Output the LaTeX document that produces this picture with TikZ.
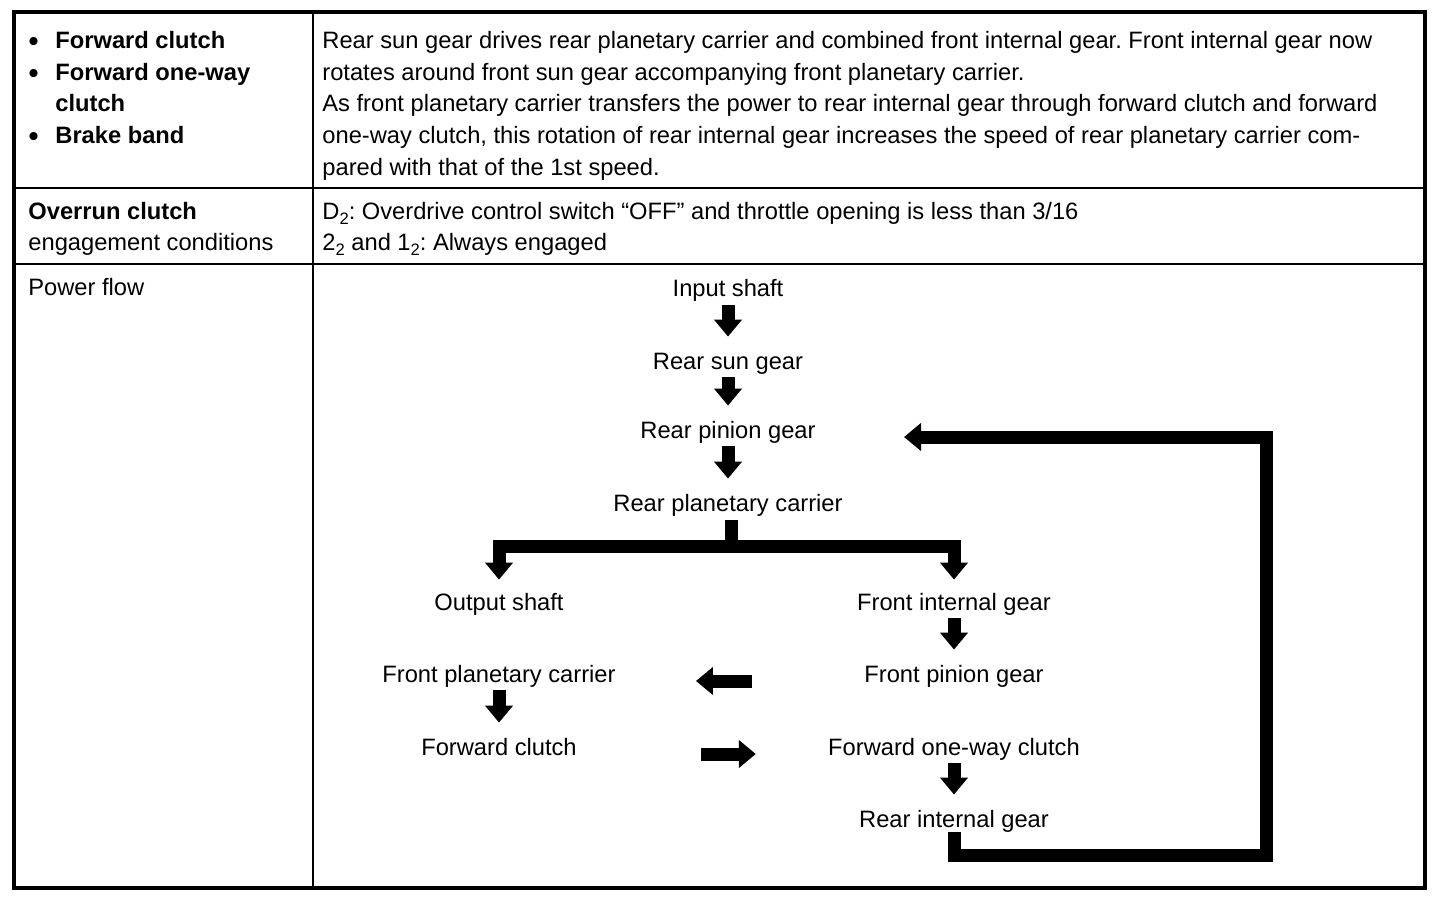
\documentclass[tikz,border=0pt]{standalone}
\usepackage{fontspec}
\setmainfont{Liberation Sans}
\usetikzlibrary{arrows.meta}
\frenchspacing
\newcommand\pfs{\fontsize{11.85pt}{15.75pt}\selectfont}
\newcommand\mysub[1]{\raisebox{-2.6pt}{\fontsize{8.3pt}{8.3pt}\selectfont #1}}
\newcommand\mybul{\raisebox{-1.6pt}{\fontsize{15pt}{15pt}\selectfont •}}
\begin{document}
\begin{tikzpicture}[x=0.5pt,y=-0.5pt,
  txt/.style={font=\pfs, inner sep=0pt, anchor=base west},
  btxt/.style={font=\pfs\bfseries, inner sep=0pt, anchor=base west},
  pf/.style={font=\pfs, inner sep=0pt, text height=9pt, text depth=2.5pt, anchor=base},
  flow/.style={line width=6.5pt, line join=miter, -{Triangle[width=13.5pt,length=8.5pt]}},
  fatline/.style={line width=6.5pt},
  frame/.style={line width=1.75pt},
  rule/.style={line width=1.2pt}]
\useasboundingbox (0,0) rectangle (1456,910);
\fill[white] (0,0) rectangle (1456,910);
% table
\draw[rule] (313,12) -- (313,888);
\draw[rule] (14,188) -- (1425,188);
\draw[rule] (14,264) -- (1425,264);
\draw[frame] (14,12) rectangle (1425,888);
% row 1 left
\node[txt] (b1) at (28,48) {\mybul};
\node[btxt] (l1) at (55,48) {Forward clutch};
\node[txt] (b2) at (28,80) {\mybul};
\node[btxt] (l2) at (55,80) {Forward one-way};
\node[btxt] (l3) at (55,111) {clutch};
\node[txt] (b3) at (28,143) {\mybul};
\node[btxt] (l4) at (55,143) {Brake band};
% row 1 right
\node[txt] (r1) at (322,48) {Rear sun gear drives rear planetary carrier and combined front internal gear. Front internal gear now};
\node[txt] (r2) at (322,80) {rotates around front sun gear accompanying front planetary carrier.};
\node[txt] (r3) at (322,111) {As front planetary carrier transfers the power to rear internal gear through forward clutch and forward};
\node[txt] (r4) at (322,143) {one-way clutch, this rotation of rear internal gear increases the speed of rear planetary carrier com-};
\node[txt] (r5) at (322,175) {pared with that of the 1st speed.};
% row 2
\node[btxt] (o1) at (28,219) {Overrun clutch};
\node[txt] (o2) at (28,250) {engagement conditions};
\node[txt] (c1) at (322,219) {D\mysub{2}: Overdrive control switch “OFF” and throttle opening is less than 3/16};
\node[txt] (c2) at (322,250) {2\mysub{2} and 1\mysub{2}: Always engaged};
% row 3
\node[txt] (p0) at (28,295) {Power flow};
% power flow nodes
\node[pf] (in) at (728,296.5) {Input shaft};
\node[pf] (sun) at (728,369) {Rear sun gear};
\node[pf] (pin) at (728,438) {Rear pinion gear};
\node[pf] (car) at (728,511) {Rear planetary carrier};
\node[pf] (out) at (499,610) {Output shaft};
\node[pf] (fig) at (954,610) {Front internal gear};
\node[pf] (fpc) at (499,682) {Front planetary carrier};
\node[pf] (fpg) at (954,682) {Front pinion gear};
\node[pf] (fc) at (499,755) {Forward clutch};
\node[pf] (fowc) at (954,755) {Forward one-way clutch};
\node[pf] (rig) at (954,827) {Rear internal gear};
% vertical arrows
\foreach \a/\b in {in/sun, sun/pin, pin/car, fig/fpg, fpc/fc, fowc/rig}
  \draw[flow, shorten <=1.5pt, shorten >=7pt] (\a.south) -- (\b.north);
% branch
\coordinate (j) at (731,546);
\draw[fatline, shorten <=2pt] (car.south -| j) -- (j);
\draw[flow, shorten >=6pt] (j) -| (out.north);
\draw[flow, shorten >=6pt] (j) -| (fig.north);
% feedback loop
\coordinate (lc) at (1266,855);
\draw[flow, shorten >=44pt] (rig.south) |- (lc) |- ([yshift=-2.75pt]pin.east);
% horizontal arrows
\draw[flow, shorten <=56pt, shorten >=40pt] ([yshift=-2.75pt]fpg.west) -- ([yshift=-2.75pt]fpc.east);
\draw[flow, shorten <=62pt, shorten >=36pt] ([yshift=-2.75pt]fc.east) -- ([yshift=-2.75pt]fowc.west);
\end{tikzpicture}
\end{document}
